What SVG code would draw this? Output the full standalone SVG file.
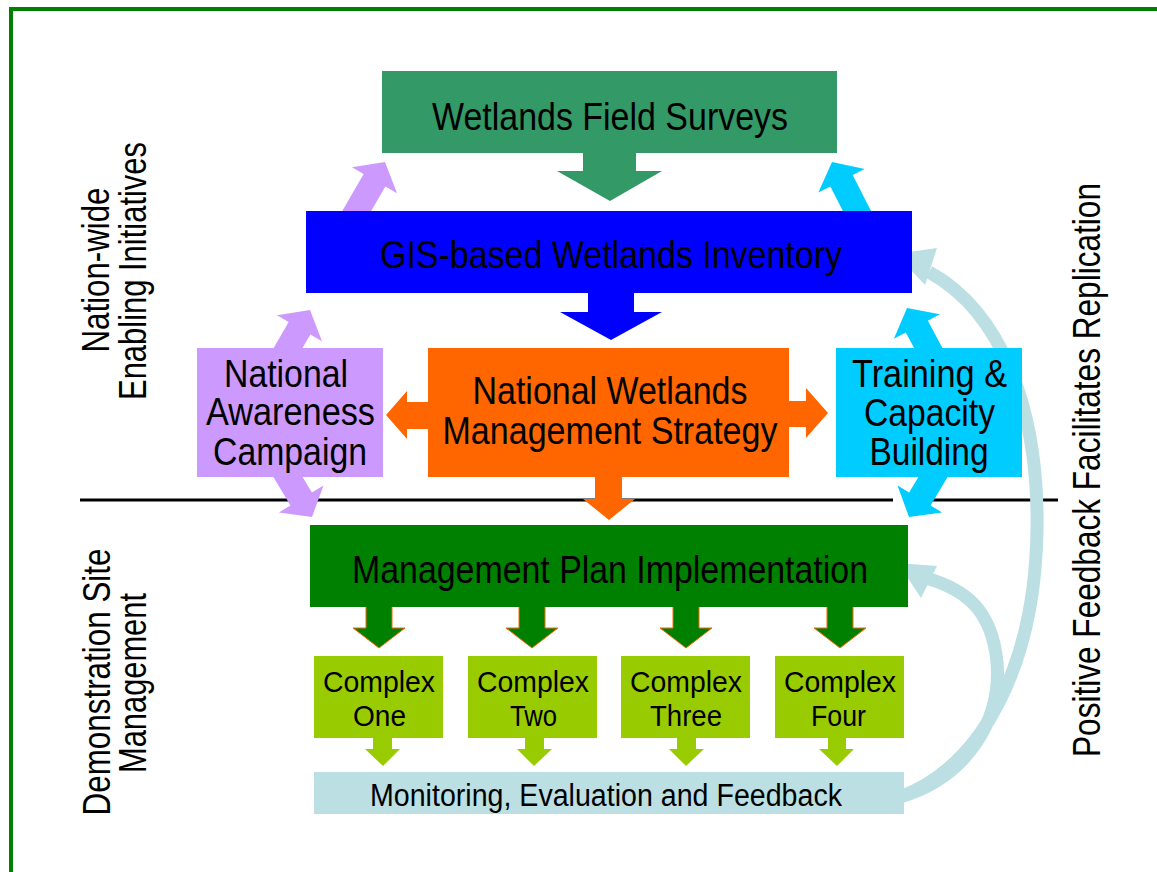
<svg xmlns="http://www.w3.org/2000/svg" width="1157" height="872" viewBox="0 0 1157 872">
  <style>
    .t { font-family: "Liberation Sans Narrow", "Arial Narrow", "Liberation Sans", Arial, sans-serif; fill: #000; text-anchor: middle; }
    .big { font-size: 39px; }
    .mid { font-size: 38px; }
    .cx { font-size: 30px; }
    .side { font-size: 38px; }
    .feedback { fill: none; stroke: #bbdfe3; stroke-width: 13; }
    .head-fb { fill: #bbdfe3; }
    .purple { fill: #cc99ff; }
    .cyan { fill: #00ccff; }
    .orange { fill: #ff6600; }
    .down-dk { fill: #008000; stroke: #ff6600; stroke-width: 1; }
    .down-lt { fill: #99cc00; }
  </style>
  <defs>
    <!-- generic block arrow, tip at origin, pointing up -->
    <polygon id="blk" points="0,0 26,21 12.5,21 12.5,80 -12.5,80 -12.5,21 -26,21"/>
  </defs>

  <rect width="1157" height="872" fill="#ffffff"/>
  <!-- frame -->
  <rect x="11" y="9" width="1200" height="900" fill="none" stroke="#008000" stroke-width="4"/>

  <!-- section divider -->
  <g id="divider">
    <line x1="80" y1="500" x2="893" y2="500" stroke="#000" stroke-width="3"/>
    <line x1="926" y1="500" x2="1058" y2="500" stroke="#000" stroke-width="3"/>
  </g>

  <!-- connectors -->
  <g id="connectors">
    <!-- field surveys -> inventory -->
    <polygon fill="#339966" points="583,153 636,153 636,171 662,171 610,201 557,171 583,171"/>
    <!-- inventory -> strategy -->
    <polygon fill="#0000ff" points="588,293 634,293 634,312 662,312 611,340 560,312 588,312"/>
    <!-- strategy -> awareness / training / plan -->
    <polygon class="orange" points="430,402 407,402 407,391 386,415 407,439 407,429 430,429"/>
    <polygon class="orange" points="787,401 806,401 806,388 828,413 806,438 806,427 787,427"/>
    <polygon class="orange" points="595,475 622,475 622,499 635,499 609,520 583,499 595,499"/>
    <!-- awareness campaign links -->
    <use href="#blk" class="purple" transform="translate(385,162) rotate(30)"/>
    <use href="#blk" class="purple" transform="translate(310,310) rotate(30)"/>
    <use href="#blk" class="purple" transform="translate(312,517) rotate(149)"/>
    <!-- training links -->
    <use href="#blk" class="cyan" transform="translate(832,162) rotate(-27)"/>
    <use href="#blk" class="cyan" transform="translate(907,308) rotate(-28)"/>
    <use href="#blk" class="cyan" transform="translate(909,517) rotate(211)"/>
    <!-- plan -> complexes -->
    <polygon class="down-dk" points="366,600 392,600 392,628 405,628 379,648 353,628 366,628"/>
    <polygon class="down-dk" points="519,600 545,600 545,628 558,628 532,648 506,628 519,628"/>
    <polygon class="down-dk" points="673,600 699,600 699,628 712,628 686,648 660,628 673,628"/>
    <polygon class="down-dk" points="827,600 853,600 853,628 866,628 840,648 814,628 827,628"/>
    <!-- complexes -> monitoring -->
    <polygon class="down-lt" points="373,735 392,735 392,749 400,749 383,766 365,749 373,749"/>
    <polygon class="down-lt" points="525,735 544,735 544,749 552,749 534,766 517,749 525,749"/>
    <polygon class="down-lt" points="677,735 696,735 696,749 704,749 686,766 669,749 677,749"/>
    <polygon class="down-lt" points="828,735 846,735 846,749 854,749 837,766 819,749 828,749"/>
    <!-- feedback loops -->
    <path class="feedback" d="M 900 797 C 965 778 1002 722 997 662 C 992 612 968 590 926 578"/>
    <polygon class="head-fb" points="898,563 937,566 921,598"/>
    <path class="feedback" d="M 900 797 C 985 765 1035 662 1037 530 C 1039 410 1002 312 929 272"/>
    <polygon class="head-fb" points="896,254 937,248 925,285"/>
  </g>

  <g id="field-surveys">
    <rect x="382" y="71" width="455" height="82" fill="#339966"/>
    <text class="t big" x="610" y="130" textLength="356" lengthAdjust="spacingAndGlyphs">Wetlands Field Surveys</text>
  </g>

  <g id="gis-inventory">
    <rect x="306" y="211" width="606" height="82" fill="#0000ff"/>
    <text class="t big" x="611" y="268" textLength="462" lengthAdjust="spacingAndGlyphs">GIS-based Wetlands Inventory</text>
  </g>

  <g id="strategy">
    <rect x="428" y="348" width="361" height="129" fill="#ff6600"/>
    <text class="t mid" x="610" y="404" textLength="275" lengthAdjust="spacingAndGlyphs">National Wetlands</text>
    <text class="t mid" x="610" y="444" textLength="335" lengthAdjust="spacingAndGlyphs">Management Strategy</text>
  </g>

  <g id="awareness">
    <rect x="197" y="348" width="186" height="129" fill="#cc99ff"/>
    <text class="t mid" x="286" y="387" textLength="124" lengthAdjust="spacingAndGlyphs">National</text>
    <text class="t mid" x="290.5" y="425" textLength="169" lengthAdjust="spacingAndGlyphs">Awareness</text>
    <text class="t mid" x="290" y="465" textLength="154" lengthAdjust="spacingAndGlyphs">Campaign</text>
  </g>

  <g id="training">
    <rect x="836" y="348" width="186" height="129" fill="#00ccff"/>
    <text class="t mid" x="929.5" y="387" textLength="155" lengthAdjust="spacingAndGlyphs">Training &amp;</text>
    <text class="t mid" x="929.5" y="426" textLength="131" lengthAdjust="spacingAndGlyphs">Capacity</text>
    <text class="t mid" x="929" y="465" textLength="119" lengthAdjust="spacingAndGlyphs">Building</text>
  </g>

  <g id="plan">
    <rect x="310" y="525" width="598" height="82" fill="#008000"/>
    <text class="t big" x="610" y="583" textLength="516" lengthAdjust="spacingAndGlyphs">Management Plan Implementation</text>
  </g>

  <g id="complex-one">
    <rect x="314" y="656" width="129" height="82" fill="#99cc00"/>
    <text class="t cx" x="379" y="692" textLength="112" lengthAdjust="spacingAndGlyphs">Complex</text>
    <text class="t cx" x="379.5" y="726" textLength="53" lengthAdjust="spacingAndGlyphs">One</text>
  </g>
  <g id="complex-two">
    <rect x="468" y="656" width="129" height="82" fill="#99cc00"/>
    <text class="t cx" x="533" y="692" textLength="112" lengthAdjust="spacingAndGlyphs">Complex</text>
    <text class="t cx" x="533.5" y="726" textLength="47" lengthAdjust="spacingAndGlyphs">Two</text>
  </g>
  <g id="complex-three">
    <rect x="621" y="656" width="129" height="82" fill="#99cc00"/>
    <text class="t cx" x="686" y="692" textLength="112" lengthAdjust="spacingAndGlyphs">Complex</text>
    <text class="t cx" x="686" y="726" textLength="72" lengthAdjust="spacingAndGlyphs">Three</text>
  </g>
  <g id="complex-four">
    <rect x="775" y="656" width="129" height="82" fill="#99cc00"/>
    <text class="t cx" x="840" y="692" textLength="112" lengthAdjust="spacingAndGlyphs">Complex</text>
    <text class="t cx" x="838.5" y="726" textLength="55" lengthAdjust="spacingAndGlyphs">Four</text>
  </g>

  <g id="monitoring">
    <rect x="314" y="772" width="590" height="42" fill="#bbdfe3"/>
    <text class="t" x="606" y="806" font-size="31" textLength="472" lengthAdjust="spacingAndGlyphs">Monitoring, Evaluation and Feedback</text>
  </g>

  <!-- side captions -->
  <g id="label-nationwide">
    <text class="t side" transform="translate(109,270) rotate(-90)" textLength="165" lengthAdjust="spacingAndGlyphs">Nation-wide</text>
    <text class="t side" transform="translate(146,271) rotate(-90)" textLength="258" lengthAdjust="spacingAndGlyphs">Enabling Initiatives</text>
  </g>
  <g id="label-demo">
    <text class="t side" transform="translate(110,682) rotate(-90)" textLength="267" lengthAdjust="spacingAndGlyphs">Demonstration Site</text>
    <text class="t side" transform="translate(146,683) rotate(-90)" textLength="180" lengthAdjust="spacingAndGlyphs">Management</text>
  </g>
  <g id="label-feedback">
    <text class="t side" transform="translate(1100,470) rotate(-90)" textLength="574" lengthAdjust="spacingAndGlyphs">Positive Feedback Facilitates Replication</text>
  </g>
</svg>
